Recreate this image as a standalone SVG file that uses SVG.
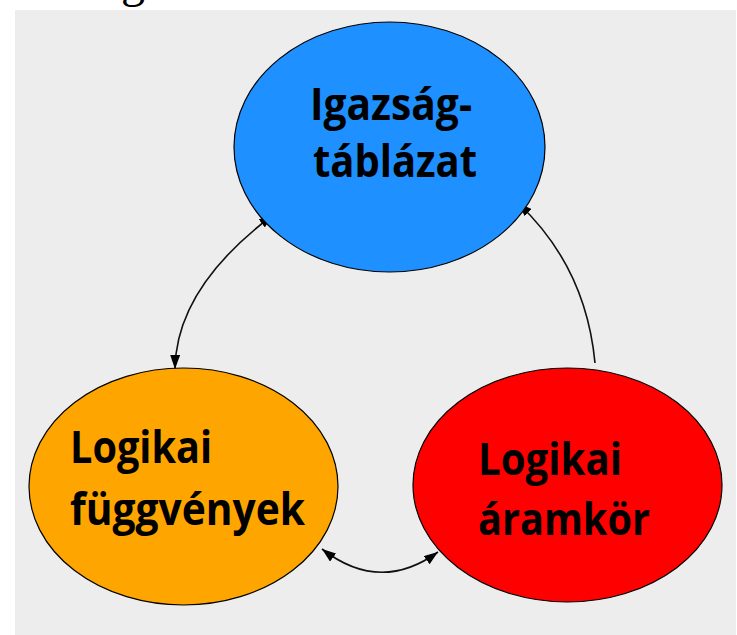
<svg xmlns="http://www.w3.org/2000/svg" width="737" height="635" viewBox="0 0 737 635">
  <style>
    .node { stroke: #000; stroke-width: 1.2; }
    .label { font-family: "Open Sans", "Noto Sans", sans-serif; font-weight: 700; font-size: 44px; fill: #000; }
    .link { fill: none; stroke: #111; stroke-width: 1.6; }
  </style>
  <defs>
    <marker id="arrow" markerUnits="userSpaceOnUse" viewBox="0 0 14 10" refX="14" refY="5" markerWidth="14" markerHeight="10" orient="auto-start-reverse">
      <path d="M0,0 L14,5 L0,10 Z" fill="#000"/>
    </marker>
  </defs>

  <!-- page background -->
  <rect x="0" y="0" width="737" height="635" fill="#ffffff"/>
  <text x="121" y="-3" font-family="Liberation Serif, serif" font-size="48" fill="#000">g</text>
  <rect x="15" y="10" width="721" height="625" fill="#ededed"/>

  <!-- connectors -->
  <g id="connectors">
    <path class="link" d="M273,215 Q176,288 175,369" marker-start="url(#arrow)" marker-end="url(#arrow)"/>
    <path class="link" d="M595,363 Q586,267 518,203" marker-end="url(#arrow)"/>
    <path class="link" d="M322,549 Q380,594 438,552" marker-start="url(#arrow)" marker-end="url(#arrow)"/>
  </g>

  <g id="truth-table">
    <ellipse class="node" cx="389.5" cy="147" rx="155.5" ry="125" fill="#1e90ff"/>
    <text class="label" x="310" y="120" textLength="162" lengthAdjust="spacingAndGlyphs">Igazság-</text>
    <text class="label" x="313" y="177" textLength="164" lengthAdjust="spacingAndGlyphs">táblázat</text>
  </g>

  <g id="logic-functions">
    <ellipse class="node" cx="183.5" cy="486.5" rx="154.5" ry="118.5" fill="#ffa500"/>
    <text class="label" x="70" y="463" textLength="142" lengthAdjust="spacingAndGlyphs">Logikai</text>
    <text class="label" x="70" y="525" textLength="235" lengthAdjust="spacingAndGlyphs">függvények</text>
  </g>

  <g id="logic-circuit">
    <ellipse class="node" cx="567.5" cy="485" rx="154.5" ry="117" fill="#ff0000"/>
    <text class="label" x="478" y="475" textLength="144" lengthAdjust="spacingAndGlyphs">Logikai</text>
    <text class="label" x="478" y="535" textLength="172" lengthAdjust="spacingAndGlyphs">áramkör</text>
  </g>
</svg>
